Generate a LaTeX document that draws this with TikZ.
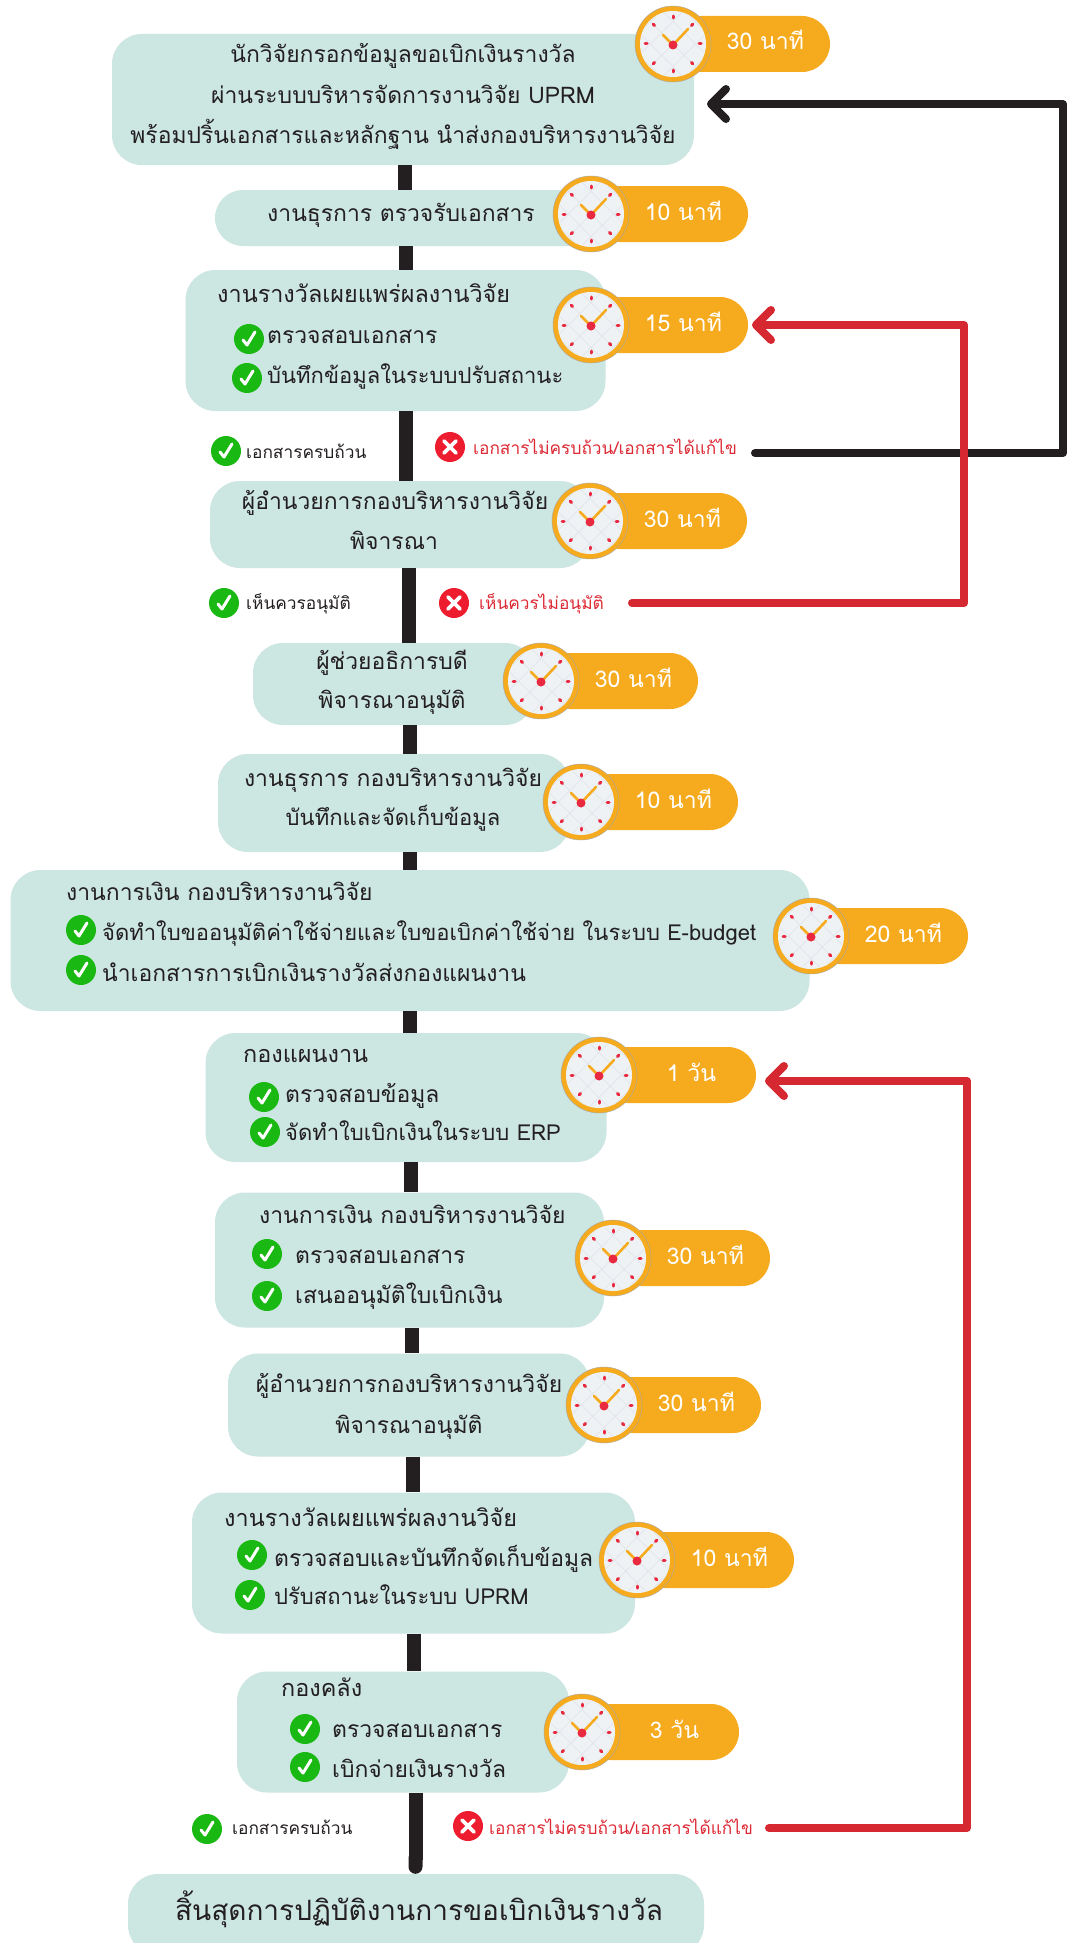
\documentclass[tikz,border=0pt]{standalone}
\usepackage{fontspec}
\setmainfont[Script=Thai]{Loma}
\usetikzlibrary{arrows.meta,calc}
\definecolor{boxc}{HTML}{CCE6E2}
\definecolor{inkc}{HTML}{231F20}
\definecolor{pillc}{HTML}{F6AB1E}
\definecolor{redl}{HTML}{D62830}
\definecolor{redt}{HTML}{DD2A35}
\definecolor{reddot}{HTML}{ED1C2E}
\definecolor{greend}{HTML}{1AB812}
\definecolor{facec}{HTML}{EEF2F5}
\definecolor{latc}{HTML}{DEE3E7}
\definecolor{tickc}{HTML}{E8293F}
\newcommand{\nrw}{\fontsize{22}{24}\selectfont}
\newcommand{\wdr}{\fontsize{23.4}{25}\selectfont}
\tikzset{
  boxn/.style={fill=boxc,inner sep=0pt,rounded corners=30pt},
  spine/.style={draw=inkc,line width=14pt},
  blackline/.style={draw=inkc,line width=8pt,line cap=round,line join=round,
    -{Straight Barb[round,length=15pt,width=30pt,line width=8pt]}},
  redline/.style={draw=redl,line width=8pt,line cap=round,line join=round,
    -{Straight Barb[round,length=15pt,width=30pt,line width=8pt]}},
  pillbox/.style={fill=pillc,inner sep=0pt,minimum width=157pt,minimum height=56pt,rounded corners=28pt,
    text=white,font=\fontsize{23}{25}\selectfont,text height=12pt,text depth=0pt},
  dot/.style={circle,inner sep=0pt,minimum size=30pt},
  body/.style={inner sep=0pt,text=inkc,font=\fontsize{22.9}{25}\selectfont},
  small/.style={inner sep=0pt,text=inkc,font=\fontsize{17.3}{20}\selectfont},
  clockpic/.pic={
    \fill[pillc] (0,0) circle (38);
    \draw[black!35,line width=0.4pt] (0,0) circle (38);
    \fill[facec] (0,0) circle (33);
    \begin{scope}
      \clip (0,0) circle (33);
      \foreach \k in {-45,-22.5,0,22.5,45}{
        \draw[latc,line width=0.5pt] (\k-40,-40) -- (\k+40,40);
        \draw[latc,line width=0.5pt] (\k-40,40) -- (\k+40,-40);
      }
    \end{scope}
    \foreach \a in {0,45,...,315}{
      \draw[tickc,line width=3pt,line cap=round] (\a:26) -- (\a:28);
    }
    \draw[pillc,line width=2.6pt,line cap=round] (-10,-9) -- (0,1) -- (15,-15);
    \fill[tickc] (0,1) circle (4.5);
  }
}
\newcommand{\timerat}[4]{%
  \node[pillbox] (p#1) at (#2+78.5,#3) {\hspace*{28pt}#4};
  \pic at (#2,#3) {clockpic};
}
\newcommand{\okdot}[3]{%
  \node[dot,fill=greend] (#1) at (#2,#3) {};
  \draw[white,line width=3pt,line cap=round,line join=round]
    ([shift={(-6,1)}]#1.center) -- ([shift={(-2,6)}]#1.center) -- ([shift={(6,-7)}]#1.center);
}
\newcommand{\nodot}[3]{%
  \node[dot,fill=reddot] (#1) at (#2,#3) {};
  \draw[white,line width=3.6pt,line cap=round]
    ([shift={(-6,-6)}]#1.center) -- ([shift={(6,6)}]#1.center)
    ([shift={(-6,6)}]#1.center) -- ([shift={(6,-6)}]#1.center);
}
\newcommand{\lft}[4]{\node[body,anchor=base west] (#1) at (#2,#3+7) {#4};}
\newcommand{\ctr}[4]{\node[body,anchor=base] (#1) at (#2,#3+7) {#4};}
\begin{document}
\begin{tikzpicture}[x=1pt,y=-1pt]
\useasboundingbox (0,0) rectangle (1074,1943);
\clip (0,0) rectangle (1074,1943);
\fill[white] (0,0) rectangle (1074,1943);
% boxes
\node[boxn,minimum width=582pt,minimum height=131pt] (b1) at (403,99.5) {};
\node[boxn,rounded corners=28pt,minimum width=385pt,minimum height=56pt] (b2) at (407.5,218) {};
\node[boxn,minimum width=420pt,minimum height=141pt] (b3) at (395.5,340.5) {};
\node[boxn,minimum width=380pt,minimum height=87pt] (b4) at (400,524.5) {};
\node[boxn,minimum width=282pt,minimum height=82pt] (b5) at (394,684) {};
\node[boxn,minimum width=352pt,minimum height=98pt] (b6) at (394,803) {};
\node[boxn,minimum width=799pt,minimum height=141pt] (b7) at (410,940.5) {};
\node[boxn,minimum width=401pt,minimum height=129pt] (b8) at (406,1097.5) {};
\node[boxn,minimum width=389pt,minimum height=135pt] (b9) at (409.5,1260) {};
\node[boxn,minimum width=362pt,minimum height=103pt] (b10) at (409,1405) {};
\node[boxn,minimum width=443pt,minimum height=141pt] (b11) at (413.5,1563) {};
\node[boxn,minimum width=332pt,minimum height=121pt] (b12) at (403,1732) {};
\node[boxn,minimum width=576pt,minimum height=81pt] (b13) at (416,1914.5) {};
% spine
\coordinate (s1) at (404.5,0); \coordinate (s2) at (405.5,0); \coordinate (s3) at (406,0);
\coordinate (s4) at (408.5,0); \coordinate (s5) at (410,0); \coordinate (s6) at (410,0);
\coordinate (s7) at (410,0); \coordinate (s8) at (411,0); \coordinate (s9) at (412,0);
\coordinate (s10) at (413,0); \coordinate (s11) at (414,0); \coordinate (s12) at (415.5,0);
\draw[spine] (s1 |- b1.south) -- (s1 |- b2.north);
\draw[spine] (s2 |- b2.south) -- (s2 |- b3.north);
\draw[spine] (s3 |- b3.south) -- (s3 |- b4.north);
\draw[spine] (s4 |- b4.south) -- (s4 |- b5.north);
\draw[spine] (s5 |- b5.south) -- (s5 |- b6.north);
\draw[spine] (s6 |- b6.south) -- (s6 |- b7.north);
\draw[spine] (s7 |- b7.south) -- (s7 |- b8.north);
\draw[spine] (s8 |- b8.south) -- (s8 |- b9.north);
\draw[spine] (s9 |- b9.south) -- (s9 |- b10.north);
\draw[spine] (s10 |- b10.south) -- (s10 |- b11.north);
\draw[spine] (s11 |- b11.south) -- (s11 |- b12.north);
\draw[spine,-{Round Cap[length=7pt]}] (s12 |- b12.south) -- (s12 |- b13.north);
% timers
\timerat{1}{673}{44}{30 นาที}
\timerat{2}{591}{214}{10 นาที}
\timerat{3}{591}{325}{15 นาที}
\timerat{4}{590}{521}{30 นาที}
\timerat{5}{541}{681}{30 นาที}
\timerat{6}{581}{802}{10 นาที}
\timerat{7}{811}{936}{20 นาที}
\timerat{8}{599}{1075}{1 วัน}
\timerat{9}{613}{1258}{30 นาที}
\timerat{10}{604}{1405}{30 นาที}
\timerat{11}{637}{1560}{10 นาที}
\timerat{12}{582}{1732}{3 วัน}
% return lines
\coordinate (bs) at (755,453); \coordinate (bc1) at (1063,453); \coordinate (bc2) at (1063,104); \coordinate (be) at (707,104);
\draw[blackline] (bs) -- (bc1) -- (bc2) -- (be);
\coordinate (rs) at (632,603); \coordinate (rc1) at (964,603); \coordinate (rc2) at (964,325); \coordinate (re) at (752,325);
\draw[redline] (rs) -- (rc1) -- (rc2) -- (re);
\coordinate (qs) at (769,1828); \coordinate (qc1) at (967,1828); \coordinate (qc2) at (967,1081); \coordinate (qe) at (765,1081);
\draw[redline] (qs) -- (qc1) -- (qc2) -- (qe);
% texts
\ctr{t1a}{403}{56}{นักวิจัยกรอกข้อมูลขอเบิกเงินรางวัล}
\ctr{t1b}{403}{96}{ผ่านระบบบริหารจัดการงานวิจัย UPRM}
\ctr{t1c}{403}{136}{พร้อมปริ้นเอกสารและหลักฐาน นำส่งกองบริหารงานวิจัย}
\ctr{t2a}{401}{214}{งานธุรการ ตรวจรับเอกสาร}
\lft{t3a}{217}{295}{\wdr งานรางวัลเผยแพร่ผลงานวิจัย}
\okdot{k3a}{249}{339}\lft{t3b}{267}{336}{ตรวจสอบเอกสาร}
\okdot{k3b}{247}{378}\lft{t3c}{267}{376}{\nrw บันทึกข้อมูลในระบบปรับสถานะ}
\okdot{k4}{226}{451}\node[small,anchor=base west] (t4a) at (246,458) {เอกสารครบถ้วน};
\nodot{x4}{450}{447}\node[small,anchor=base west,text=redt] (t4b) at (473,454) {เอกสารไม่ครบถ้วน/เอกสารได้แก้ไข};
\ctr{t5a}{395}{502}{ผู้อำนวยการกองบริหารงานวิจัย}
\ctr{t5b}{394}{542}{พิจารณา}
\okdot{k5}{224}{603}\node[small,anchor=base west] (t5c) at (246,609) {เห็นควรอนุมัติ};
\nodot{x5}{454}{603}\node[small,anchor=base west,text=redt] (t5d) at (479,609) {เห็นควรไม่อนุมัติ};
\ctr{t6a}{392}{662}{ผู้ช่วยอธิการบดี}
\ctr{t6b}{392}{701}{พิจารณาอนุมัติ}
\ctr{t7a}{393}{779}{งานธุรการ กองบริหารงานวิจัย}
\ctr{t7b}{393}{818}{\nrw บันทึกและจัดเก็บข้อมูล}
\lft{t8a}{66}{893}{งานการเงิน กองบริหารงานวิจัย}
\okdot{k8a}{81}{930}\lft{t8b}{102}{933}{\nrw จัดทำใบขออนุมัติค่าใช้จ่ายและใบขอเบิกค่าใช้จ่าย ในระบบ E-budget}
\okdot{k8b}{81}{970}\lft{t8c}{102}{974}{นำเอกสารการเบิกเงินรางวัลส่งกองแผนงาน}
\lft{t9a}{243}{1055}{\wdr กองแผนงาน}
\okdot{k9a}{264}{1097}\lft{t9b}{285}{1095}{ตรวจสอบข้อมูล}
\okdot{k9b}{265}{1132}\lft{t9c}{285}{1133}{\nrw จัดทำใบเบิกเงินในระบบ ERP}
\lft{t10a}{259}{1216}{งานการเงิน กองบริหารงานวิจัย}
\okdot{k10a}{267}{1254}\lft{t10b}{295}{1256}{ตรวจสอบเอกสาร}
\okdot{k10b}{267}{1296}\lft{t10c}{295}{1296}{เสนออนุมัติใบเบิกเงิน}
\ctr{t11a}{409}{1385}{ผู้อำนวยการกองบริหารงานวิจัย}
\ctr{t11b}{409}{1426}{พิจารณาอนุมัติ}
\lft{t12a}{224}{1519}{\wdr งานรางวัลเผยแพร่ผลงานวิจัย}
\okdot{k12a}{252}{1555}\lft{t12b}{274}{1559}{ตรวจสอบและบันทึกจัดเก็บข้อมูล}
\okdot{k12b}{250}{1595}\lft{t12c}{274}{1597}{\nrw ปรับสถานะในระบบ UPRM}
\lft{t13a}{281}{1689}{\wdr กองคลัง}
\okdot{k13a}{305}{1729}\lft{t13b}{332}{1730}{ตรวจสอบเอกสาร}
\okdot{k13b}{305}{1767}\lft{t13c}{332}{1770}{เบิกจ่ายเงินรางวัล}
\okdot{k14}{207}{1829}\node[small,anchor=base west] (t14a) at (232,1834) {เอกสารครบถ้วน};
\nodot{x14}{468}{1826}\node[small,anchor=base west,text=redt] (t14b) at (489,1834) {เอกสารไม่ครบถ้วน/เอกสารได้แก้ไข};
\node[body,anchor=base,font=\fontsize{28}{30}\selectfont] (t15) at (419,1920) {สิ้นสุดการปฏิบัติงานการขอเบิกเงินรางวัล};
\end{tikzpicture}
\end{document}
